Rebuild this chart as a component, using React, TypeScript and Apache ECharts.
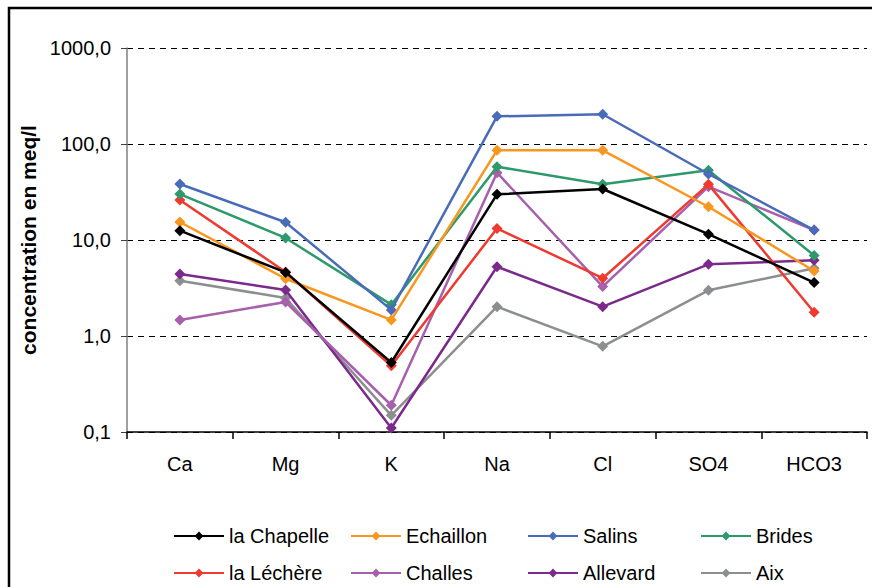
import React, { useEffect, useRef } from "react";
import * as echarts from "echarts";

const categories = ["Ca", "Mg", "K", "Na", "Cl", "SO4", "HCO3"];
const seriesNames = ["la Chapelle", "Echaillon", "Salins", "Brides", "la Léchère", "Challes", "Allevard", "Aix"];
const laChapelle = [12.5, 4.6, 0.53, 29.9, 34, 11.5, 3.6];
const echaillon = [15.4, 3.95, 1.47, 86, 86, 22.2, 4.75];
const salins = [38.3, 15.3, 1.87, 194, 204, 48.7, 12.7];
const brides = [30.1, 10.5, 2.12, 58, 38, 53.2, 6.9];
const lechere = [26.1, 4.64, 0.49, 13.2, 4.0, 38, 1.77];
const challes = [1.47, 2.26, 0.19, 50.3, 3.27, 35.9, 12.7];
const allevard = [4.42, 3.01, 0.11, 5.27, 2.02, 5.58, 6.14];
const aix = [3.77, 2.49, 0.149, 2.02, 0.78, 2.99, 5.07];
const seriesValues = [laChapelle, echaillon, salins, brides, lechere, challes, allevard, aix];
const seriesColors = ["#000000", "#F8971F", "#4A6BB8", "#2E9A6C", "#EE3A30", "#A660AC", "#7B2A8C", "#8C8E90"];

const FONT = "'Liberation Sans', Arial, sans-serif";

export default function App() {
  const ref = useRef<HTMLDivElement>(null);
  useEffect(() => {
    if (!ref.current) return;
    const chart = echarts.init(ref.current, undefined, { renderer: "svg" });
    const legendLeft = [173, 350, 527, 700];
    const legendTop = [526, 563];
    const legends = seriesNames.map((n, i) => ({
      data: [n],
      left: legendLeft[i % 4],
      top: legendTop[Math.floor(i / 4)],
      itemWidth: 50,
      itemHeight: 11,
      padding: 0,
      textStyle: { fontSize: 20, color: "#000", fontFamily: FONT },
    }));
    chart.setOption({
      animation: false,
      backgroundColor: "#fff",
      textStyle: { fontFamily: FONT },
      grid: { left: 127, right: 5, top: 48, bottom: 155, containLabel: false },
      legend: legends,
      graphic: [
        {
          type: "rect",
          shape: { x: 9, y: 8, width: 900, height: 620 },
          style: { fill: "none", stroke: "#000", lineWidth: 2.5 },
          silent: true,
        },
      ],
      xAxis: {
        type: "category",
        data: categories,
        boundaryGap: true,
        axisLine: { lineStyle: { color: "#000", width: 1.5 } },
        axisTick: { show: true, length: 7, lineStyle: { color: "#000", width: 1.5 } },
        axisLabel: { fontSize: 20, color: "#000", margin: 22, fontFamily: FONT },
        splitLine: { show: false },
      },
      yAxis: {
        type: "log",
        logBase: 10,
        min: 0.1,
        max: 1000,
        name: "concentration en meq/l",
        nameLocation: "middle",
        nameGap: 85,
        nameTextStyle: { fontSize: 21, fontWeight: "bold", color: "#000", fontFamily: FONT },
        axisLine: { show: true, lineStyle: { color: "#808080", width: 1.5 } },
        axisTick: { show: true, length: 6, lineStyle: { color: "#404040", width: 1 } },
        axisLabel: {
          fontSize: 20,
          color: "#000",
          margin: 16,
          fontFamily: FONT,
          formatter: (v: number) => v.toFixed(1).replace(".", ","),
        },
        splitLine: { show: true, lineStyle: { color: "#000", type: [6, 5], width: 1 } },
      },
      series: seriesNames.map((n, i) => ({
        name: n,
        type: "line",
        data: seriesValues[i],
        symbol: "diamond",
        symbolSize: 11,
        color: seriesColors[i],
        lineStyle: { width: 2.5, color: seriesColors[i] },
        itemStyle: { color: seriesColors[i] },
        z: 10 - i,
      })),
    });
    return () => chart.dispose();
  }, []);
  return (
    <div
      ref={ref}
      style={{ position: "absolute", left: 0, top: 0, width: 872, height: 587 }}
    />
  );
}
